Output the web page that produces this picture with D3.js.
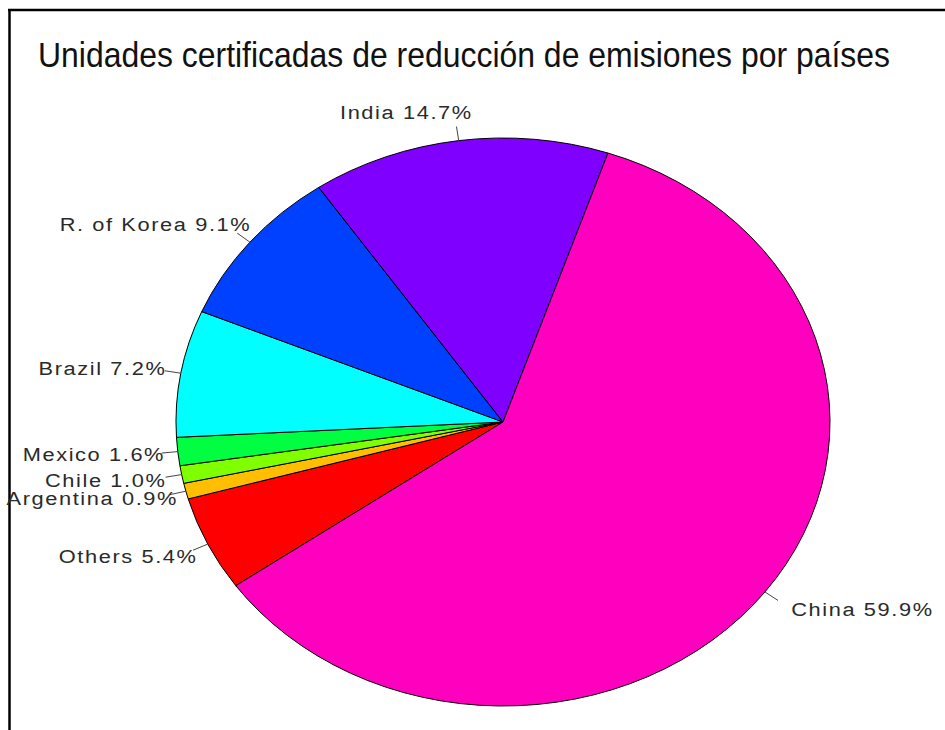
<!DOCTYPE html>
<html>
<head>
<meta charset="utf-8">
<script src="https://cdn.jsdelivr.net/npm/d3@7"></script>
<style>
  html, body { margin: 0; padding: 0; background: #fff; }
  svg { display: block; }
</style>
</head>
<body>
<div id="chart"></div>
<script>
// data, in drawing order (clockwise)
const categories = ["Others", "Argentina", "Chile", "Mexico", "Brazil", "R. of Korea", "India", "China"];
const shares = [5.4, 0.9, 1.0, 1.6, 7.2, 9.1, 14.7, 59.9];
const colors = ["#FF0000", "#FFBF00", "#80FF00", "#00FF40", "#00FFFF", "#0040FF", "#8000FF", "#FF00BF"];
const title = "Unidades certificadas de reducción de emisiones por países";

const width = 945, height = 730;
const cx = 503, cy = 422, rx = 327, ry = 284;
const start = (90 - 215.2) * Math.PI / 180;

const svg = d3.select('#chart').append('svg')
    .attr('width', width)
    .attr('height', height);

// frame (top and left only)
svg.append('line')
    .attr('x1', 8).attr('x2', width).attr('y1', 10).attr('y2', 10)
    .attr('stroke', '#000').attr('stroke-width', 2.5);
svg.append('line')
    .attr('x1', 9.5).attr('x2', 9.5).attr('y1', 9).attr('y2', height)
    .attr('stroke', '#000').attr('stroke-width', 2.5);

// title: condensed by a horizontal scale
const tg = svg.append('g');
const tt = tg.append('text')
    .attr('text-anchor', 'middle')
    .attr('font-family', 'Liberation Sans, Arial, sans-serif')
    .attr('font-size', 35)
    .attr('fill', '#111')
    .text(title);
const tw = tt.node().getComputedTextLength();
tg.attr('transform', `translate(464,67) scale(${852 / tw},1)`);

const pie = d3.pie()
    .sort(null)
    .value(d => d)
    .startAngle(start)
    .endAngle(start + 2 * Math.PI);

const arcs = pie(shares);

const arc = d3.arc()
    .innerRadius(0)
    .outerRadius(rx);

const g = svg.append('g')
    .attr('transform', `translate(${cx},${cy}) scale(1,${ry / rx})`);

g.selectAll('path')
    .data(arcs)
    .enter().append('path')
    .attr('d', arc)
    .attr('fill', (d, i) => colors[i])
    .attr('stroke', '#000')
    .attr('stroke-width', 1)
    .attr('vector-effect', 'non-scaling-stroke');

// labels, R style: tick from r to 1.05r, text at 1.1r
const sx = 1.148;
arcs.forEach((d, i) => {
    const a = (d.startAngle + d.endAngle) / 2;
    const ux = Math.sin(a), uy = -Math.cos(a);

    svg.append('line')
        .attr('x1', cx + rx * ux).attr('y1', cy + ry * uy)
        .attr('x2', cx + 1.05 * rx * ux).attr('y2', cy + 1.05 * ry * uy)
        .attr('stroke', '#444')
        .attr('stroke-width', 1);

    const lx = cx + 1.1 * rx * ux, ly = cy + 1.1 * ry * uy;
    const lg = svg.append('g');
    const t = lg.append('text')
        .attr('font-family', 'Liberation Sans, Arial, sans-serif')
        .attr('font-size', 19)
        .attr('letter-spacing', 1.4)
        .attr('dy', '0.35em')
        .attr('fill', '#2a2a2a')
        .text(categories[i] + ' ' + d3.format('.1f')(shares[i]) + '%');
    const w = t.node().getComputedTextLength() * sx;
    const x0 = ux < 0 ? lx - 0.86 * w : lx;
    lg.attr('transform', `translate(${x0},${ly}) scale(${sx},1)`);
});
</script>
</body>
</html>
